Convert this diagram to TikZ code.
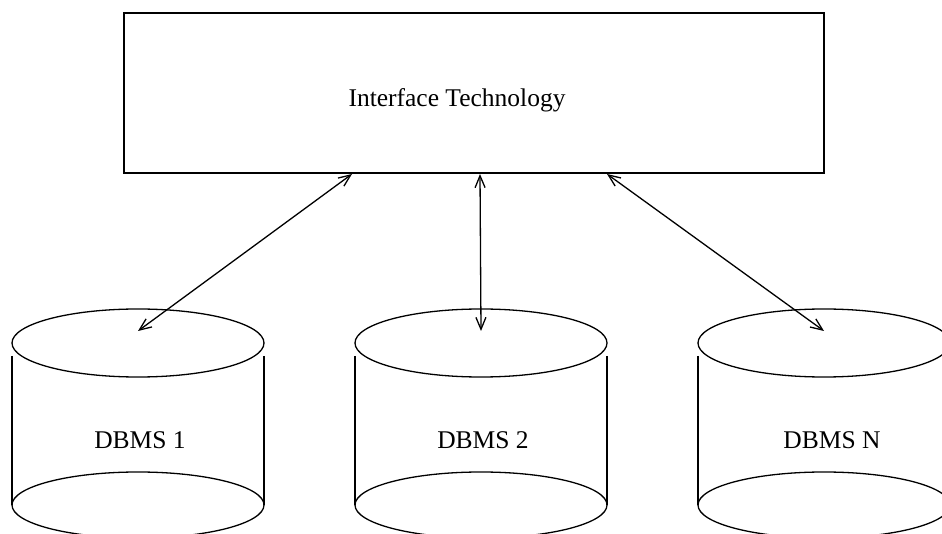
\documentclass[tikz,border=0pt]{standalone}
\usepackage{fontspec}
\setmainfont{Liberation Serif}
\usetikzlibrary{arrows.meta}

\begin{document}
\begin{tikzpicture}[x=1pt, y=-1pt, line width=1.3pt, font=\fontsize{25.5}{30}\selectfont,
  dbarrow/.style={{Straight Barb[length=12pt,width=10pt]}-{Straight Barb[length=12pt,width=10pt]}}]
  \useasboundingbox (0,0) rectangle (942,534); % 画像の大きさ
  \node[draw, line width=1.5pt, minimum width=700pt, minimum height=160pt] (iface) at (474,93) {}; % 上の箱
  \node (ifacetext) at (457,100) {Interface Technology};

  \foreach \x/\tx/\name/\txt in {138/140/db1/DBMS 1, 481/483/db2/DBMS 2, 824/832/dbn/DBMS N}{ % 円柱
    \draw (\x,343) ellipse [x radius=126, y radius=34]; % 上面
    \draw (\x-126,356) -- (\x-126,505) (\x+126,356) -- (\x+126,505); % 側面
    \draw (\x,505) ellipse [x radius=126, y radius=33]; % 底面
    \node (\name) at (\tx,440) {\txt};
    \coordinate (\name top) at (\x,331);
  }

  \coordinate (p1) at (352,174); % 箱の下辺
  \coordinate (p2) at (480,174);
  \coordinate (pn) at (607,174);
  \draw[dbarrow] (p1) -- (db1top);
  \draw[dbarrow] (p2) -- (db2top);
  \draw[dbarrow] (pn) -- (dbntop);
\end{tikzpicture}
\end{document}
